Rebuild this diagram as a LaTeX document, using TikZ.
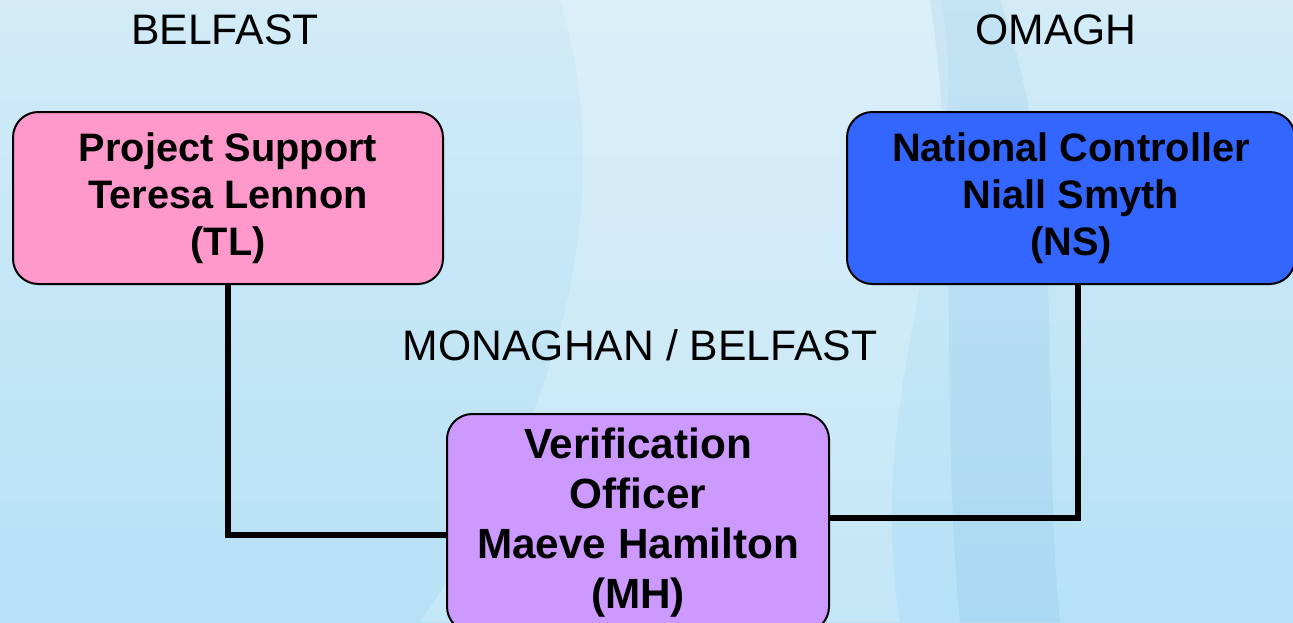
\documentclass[tikz,border=0pt]{standalone}
\usepackage{fontspec}
\setmainfont{Liberation Sans}
\usepackage{xcolor}
\usepackage{tikz}
\definecolor{tlpink}{HTML}{FF99CC}
\definecolor{nsblue}{HTML}{3366FF}
\definecolor{mhviolet}{HTML}{CC99FF}
\definecolor{bgtop}{RGB}{210,235,247}
\definecolor{bgbot}{RGB}{182,225,246}
\tikzset{
staffbox/.style={draw=black, line width=1.5pt, rounded corners=19pt, align=center, font=\bfseries\fontsize{29.8}{35.3}\selectfont}, % sets the look of each box
place/.style={font=\fontsize{32}{36}\selectfont}, % the town names
link/.style={line width=3.8pt}, % the joining lines
}
\begin{document}
\begin{tikzpicture}[x=0.75pt, y=-0.75pt]
        \useasboundingbox (0,0) rectangle (1293,622);
        \clip (0,0) rectangle (1293,622);
        \shade[top color=bgtop, bottom color=bgbot] (0,0) rectangle (1293,622);
        \fill[white, opacity=0.2] (560,0) .. controls (620,200) and (560,420) .. (420,622) -- (900,622) .. controls (860,380) and (980,180) .. (940,0) -- cycle;
        \fill[cyan!60!blue, opacity=0.07] (930,0) .. controls (960,200) and (940,420) .. (960,622) -- (1060,622) .. controls (1040,420) and (1070,200) .. (1000,0) -- cycle;

        \node[staffbox, fill=tlpink, minimum width=322.5pt, minimum height=129pt] (TL) at (228,198) {Project Support\\Teresa Lennon\\(TL)};
        \node[staffbox, fill=nsblue, minimum width=336pt, minimum height=129pt] (NS) at (1071,198) {National Controller\\Niall Smyth\\(NS)};
        \node[staffbox, fill=mhviolet, minimum width=286.5pt, minimum height=163.5pt, font=\bfseries\fontsize{31.7}{37.5}\selectfont] (MH) at (638,523) {Verification\\Officer\\Maeve Hamilton\\(MH)};

        \node[place] (belfast) at (225,30) {BELFAST};
        \node[place] (omagh) at (1056,30) {OMAGH};
        \node[place] (monaghan) at (640,345) {MONAGHAN / BELFAST};

        \coordinate (lj) at (447,535);
        \coordinate (rj) at (829,518);
        \draw[link] (TL.south) |- (lj);
        \draw[link] ([xshift=5.25pt]NS.south) |- (rj);
    \end{tikzpicture}
\end{document}
